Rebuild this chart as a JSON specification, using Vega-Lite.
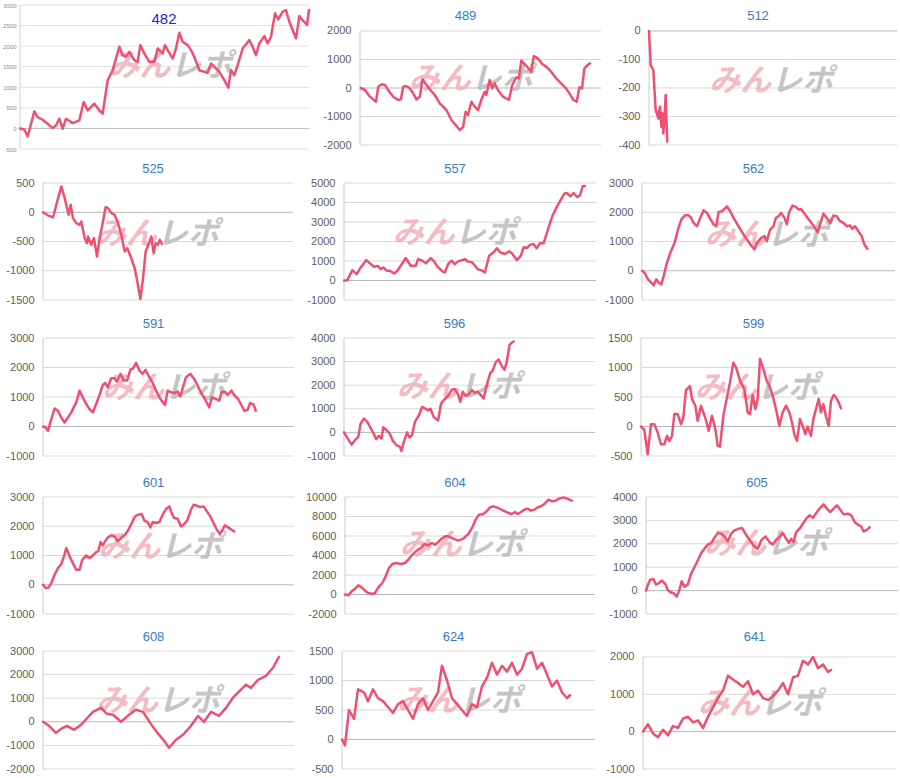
{
"$schema":"https://vega.github.io/schema/vega-lite/v6.json",
"padding":0,
"background":"white",
"spacing":0,
"data":{"values":[
{"p":"482","t":57,"v":0},{"p":"482","t":70,"v":-24},{"p":"482","t":80,"v":-195},{"p":"482","t":100,"v":415},{"p":"482","t":110,"v":276},{"p":"482","t":125,"v":211},{"p":"482","t":140,"v":114},{"p":"482","t":155,"v":8},{"p":"482","t":165,"v":73},{"p":"482","t":175,"v":236},{"p":"482","t":185,"v":-8},{"p":"482","t":195,"v":236},{"p":"482","t":215,"v":130},{"p":"482","t":235,"v":195},{"p":"482","t":248,"v":642},{"p":"482","t":260,"v":439},{"p":"482","t":280,"v":602},{"p":"482","t":295,"v":439},{"p":"482","t":305,"v":358},{"p":"482","t":320,"v":1171},{"p":"482","t":335,"v":1415},{"p":"482","t":355,"v":1984},{"p":"482","t":365,"v":1780},{"p":"482","t":375,"v":1740},{"p":"482","t":385,"v":1862},{"p":"482","t":400,"v":1659},{"p":"482","t":410,"v":1618},{"p":"482","t":418,"v":2024},{"p":"482","t":430,"v":1821},{"p":"482","t":445,"v":1618},{"p":"482","t":460,"v":1618},{"p":"482","t":470,"v":1943},{"p":"482","t":485,"v":1821},{"p":"482","t":492,"v":2024},{"p":"482","t":500,"v":1902},{"p":"482","t":515,"v":1699},{"p":"482","t":525,"v":1943},{"p":"482","t":535,"v":2325},{"p":"482","t":545,"v":2106},{"p":"482","t":560,"v":2024},{"p":"482","t":570,"v":1902},{"p":"482","t":580,"v":1740},{"p":"482","t":595,"v":1415},{"p":"482","t":610,"v":1374},{"p":"482","t":620,"v":1350},{"p":"482","t":630,"v":1577},{"p":"482","t":640,"v":1496},{"p":"482","t":655,"v":1374},{"p":"482","t":670,"v":1171},{"p":"482","t":682,"v":992},{"p":"482","t":690,"v":1415},{"p":"482","t":700,"v":1293},{"p":"482","t":710,"v":1537},{"p":"482","t":725,"v":1943},{"p":"482","t":745,"v":2146},{"p":"482","t":755,"v":1984},{"p":"482","t":765,"v":1780},{"p":"482","t":775,"v":2065},{"p":"482","t":790,"v":2244},{"p":"482","t":800,"v":2065},{"p":"482","t":810,"v":2228},{"p":"482","t":822,"v":2797},{"p":"482","t":832,"v":2650},{"p":"482","t":845,"v":2837},{"p":"482","t":855,"v":2878},{"p":"482","t":865,"v":2593},{"p":"482","t":885,"v":2187},{"p":"482","t":895,"v":2731},{"p":"482","t":900,"v":2675},{"p":"482","t":918,"v":2514},{"p":"482","t":924,"v":2878},
{"p":"489","t":172,"v":0},{"p":"489","t":185,"v":-70},{"p":"489","t":200,"v":-304},{"p":"489","t":218,"v":-480},{"p":"489","t":225,"v":47},{"p":"489","t":235,"v":129},{"p":"489","t":245,"v":105},{"p":"489","t":258,"v":-129},{"p":"489","t":270,"v":-304},{"p":"489","t":285,"v":-421},{"p":"489","t":293,"v":-398},{"p":"489","t":300,"v":47},{"p":"489","t":308,"v":70},{"p":"489","t":318,"v":12},{"p":"489","t":330,"v":-187},{"p":"489","t":340,"v":-398},{"p":"489","t":350,"v":-304},{"p":"489","t":358,"v":304},{"p":"489","t":375,"v":23},{"p":"489","t":395,"v":-246},{"p":"489","t":410,"v":-538},{"p":"489","t":430,"v":-772},{"p":"489","t":445,"v":-1123},{"p":"489","t":458,"v":-1299},{"p":"489","t":470,"v":-1474},{"p":"489","t":480,"v":-1380},{"p":"489","t":488,"v":-831},{"p":"489","t":495,"v":-948},{"p":"489","t":505,"v":-480},{"p":"489","t":515,"v":-655},{"p":"489","t":525,"v":-772},{"p":"489","t":535,"v":-421},{"p":"489","t":545,"v":-129},{"p":"489","t":550,"v":-246},{"p":"489","t":560,"v":281},{"p":"489","t":568,"v":-12},{"p":"489","t":575,"v":164},{"p":"489","t":585,"v":-70},{"p":"489","t":600,"v":-304},{"p":"489","t":618,"v":-421},{"p":"489","t":628,"v":105},{"p":"489","t":640,"v":374},{"p":"489","t":648,"v":339},{"p":"489","t":655,"v":959},{"p":"489","t":668,"v":807},{"p":"489","t":685,"v":573},{"p":"489","t":693,"v":1123},{"p":"489","t":705,"v":1041},{"p":"489","t":718,"v":842},{"p":"489","t":730,"v":749},{"p":"489","t":745,"v":573},{"p":"489","t":760,"v":339},{"p":"489","t":775,"v":164},{"p":"489","t":790,"v":-12},{"p":"489","t":800,"v":-187},{"p":"489","t":812,"v":-421},{"p":"489","t":822,"v":-480},{"p":"489","t":830,"v":23},{"p":"489","t":838,"v":-12},{"p":"489","t":845,"v":690},{"p":"489","t":855,"v":807},{"p":"489","t":862,"v":866},
{"p":"512","t":135,"v":0},{"p":"512","t":140,"v":-119},{"p":"512","t":148,"v":-137},{"p":"512","t":155,"v":-277},{"p":"512","t":160,"v":-295},{"p":"512","t":163,"v":-307},{"p":"512","t":168,"v":-266},{"p":"512","t":172,"v":-336},{"p":"512","t":175,"v":-289},{"p":"512","t":178,"v":-359},{"p":"512","t":182,"v":-301},{"p":"512","t":185,"v":-225},{"p":"512","t":187,"v":-301},{"p":"512","t":190,"v":-388},
{"p":"525","t":130,"v":0},{"p":"525","t":145,"v":-54},{"p":"525","t":160,"v":-89},{"p":"525","t":170,"v":129},{"p":"525","t":185,"v":443},{"p":"525","t":195,"v":243},{"p":"525","t":207,"v":-43},{"p":"525","t":213,"v":129},{"p":"525","t":220,"v":-100},{"p":"525","t":230,"v":-186},{"p":"525","t":240,"v":-214},{"p":"525","t":245,"v":-157},{"p":"525","t":255,"v":-443},{"p":"525","t":262,"v":-529},{"p":"525","t":265,"v":-414},{"p":"525","t":275,"v":-557},{"p":"525","t":283,"v":-443},{"p":"525","t":292,"v":-757},{"p":"525","t":300,"v":-443},{"p":"525","t":310,"v":-157},{"p":"525","t":318,"v":89},{"p":"525","t":325,"v":71},{"p":"525","t":335,"v":-14},{"p":"525","t":345,"v":-43},{"p":"525","t":355,"v":-186},{"p":"525","t":365,"v":-386},{"p":"525","t":375,"v":-671},{"p":"525","t":383,"v":-614},{"p":"525","t":393,"v":-757},{"p":"525","t":405,"v":-957},{"p":"525","t":415,"v":-1243},{"p":"525","t":422,"v":-1483},{"p":"525","t":430,"v":-1129},{"p":"525","t":438,"v":-671},{"p":"525","t":448,"v":-529},{"p":"525","t":455,"v":-414},{"p":"525","t":462,"v":-700},{"p":"525","t":468,"v":-529},{"p":"525","t":475,"v":-557},{"p":"525","t":480,"v":-471},{"p":"525","t":487,"v":-543},
{"p":"557","t":130,"v":0},{"p":"557","t":140,"v":17},{"p":"557","t":155,"v":533},{"p":"557","t":168,"v":327},{"p":"557","t":180,"v":670},{"p":"557","t":197,"v":1049},{"p":"557","t":210,"v":842},{"p":"557","t":220,"v":705},{"p":"557","t":232,"v":739},{"p":"557","t":240,"v":584},{"p":"557","t":248,"v":670},{"p":"557","t":258,"v":499},{"p":"557","t":268,"v":499},{"p":"557","t":280,"v":361},{"p":"557","t":290,"v":499},{"p":"557","t":300,"v":756},{"p":"557","t":315,"v":1152},{"p":"557","t":330,"v":756},{"p":"557","t":345,"v":756},{"p":"557","t":352,"v":1100},{"p":"557","t":365,"v":1014},{"p":"557","t":375,"v":877},{"p":"557","t":390,"v":1152},{"p":"557","t":400,"v":980},{"p":"557","t":410,"v":705},{"p":"557","t":425,"v":464},{"p":"557","t":432,"v":413},{"p":"557","t":442,"v":842},{"p":"557","t":452,"v":1014},{"p":"557","t":462,"v":842},{"p":"557","t":472,"v":980},{"p":"557","t":485,"v":1049},{"p":"557","t":492,"v":1100},{"p":"557","t":500,"v":980},{"p":"557","t":515,"v":928},{"p":"557","t":530,"v":584},{"p":"557","t":545,"v":499},{"p":"557","t":552,"v":413},{"p":"557","t":565,"v":1272},{"p":"557","t":578,"v":1444},{"p":"557","t":588,"v":1650},{"p":"557","t":598,"v":1444},{"p":"557","t":612,"v":1358},{"p":"557","t":625,"v":1496},{"p":"557","t":633,"v":1392},{"p":"557","t":648,"v":1049},{"p":"557","t":660,"v":1272},{"p":"557","t":668,"v":1702},{"p":"557","t":678,"v":1667},{"p":"557","t":688,"v":1839},{"p":"557","t":698,"v":1874},{"p":"557","t":707,"v":1650},{"p":"557","t":717,"v":1908},{"p":"557","t":728,"v":1908},{"p":"557","t":740,"v":2561},{"p":"557","t":755,"v":3335},{"p":"557","t":770,"v":3851},{"p":"557","t":790,"v":4452},{"p":"557","t":798,"v":4486},{"p":"557","t":808,"v":4314},{"p":"557","t":818,"v":4486},{"p":"557","t":828,"v":4280},{"p":"557","t":837,"v":4366},{"p":"557","t":845,"v":4830},{"p":"557","t":852,"v":4847},
{"p":"562","t":120,"v":0},{"p":"562","t":128,"v":-68},{"p":"562","t":138,"v":-295},{"p":"562","t":148,"v":-409},{"p":"562","t":155,"v":-500},{"p":"562","t":163,"v":-295},{"p":"562","t":170,"v":-409},{"p":"562","t":178,"v":-466},{"p":"562","t":185,"v":-182},{"p":"562","t":195,"v":273},{"p":"562","t":205,"v":613},{"p":"562","t":218,"v":954},{"p":"562","t":228,"v":1409},{"p":"562","t":238,"v":1749},{"p":"562","t":248,"v":1886},{"p":"562","t":258,"v":1908},{"p":"562","t":266,"v":1840},{"p":"562","t":275,"v":1636},{"p":"562","t":285,"v":1522},{"p":"562","t":293,"v":1749},{"p":"562","t":305,"v":2068},{"p":"562","t":315,"v":1977},{"p":"562","t":325,"v":1772},{"p":"562","t":335,"v":1590},{"p":"562","t":343,"v":1522},{"p":"562","t":350,"v":1999},{"p":"562","t":360,"v":2033},{"p":"562","t":375,"v":2204},{"p":"562","t":385,"v":2033},{"p":"562","t":395,"v":1806},{"p":"562","t":410,"v":1522},{"p":"562","t":422,"v":1295},{"p":"562","t":435,"v":1068},{"p":"562","t":448,"v":863},{"p":"562","t":458,"v":727},{"p":"562","t":465,"v":954},{"p":"562","t":478,"v":1125},{"p":"562","t":488,"v":1182},{"p":"562","t":495,"v":1011},{"p":"562","t":505,"v":1409},{"p":"562","t":515,"v":1522},{"p":"562","t":522,"v":1806},{"p":"562","t":530,"v":1863},{"p":"562","t":538,"v":1977},{"p":"562","t":548,"v":1806},{"p":"562","t":555,"v":1590},{"p":"562","t":562,"v":1999},{"p":"562","t":572,"v":2227},{"p":"562","t":582,"v":2181},{"p":"562","t":590,"v":2090},{"p":"562","t":598,"v":2113},{"p":"562","t":608,"v":1954},{"p":"562","t":620,"v":1772},{"p":"562","t":635,"v":1545},{"p":"562","t":648,"v":1318},{"p":"562","t":658,"v":1693},{"p":"562","t":665,"v":1954},{"p":"562","t":675,"v":1806},{"p":"562","t":685,"v":1636},{"p":"562","t":695,"v":1886},{"p":"562","t":705,"v":1863},{"p":"562","t":715,"v":1693},{"p":"562","t":725,"v":1636},{"p":"562","t":735,"v":1522},{"p":"562","t":745,"v":1545},{"p":"562","t":752,"v":1431},{"p":"562","t":760,"v":1522},{"p":"562","t":770,"v":1352},{"p":"562","t":780,"v":1182},{"p":"562","t":788,"v":897},{"p":"562","t":797,"v":750},
{"p":"591","t":125,"v":0},{"p":"591","t":133,"v":-34},{"p":"591","t":140,"v":-148},{"p":"591","t":150,"v":250},{"p":"591","t":160,"v":613},{"p":"591","t":170,"v":534},{"p":"591","t":180,"v":307},{"p":"591","t":190,"v":136},{"p":"591","t":200,"v":307},{"p":"591","t":210,"v":477},{"p":"591","t":225,"v":818},{"p":"591","t":235,"v":1216},{"p":"591","t":245,"v":988},{"p":"591","t":255,"v":761},{"p":"591","t":265,"v":591},{"p":"591","t":275,"v":477},{"p":"591","t":285,"v":761},{"p":"591","t":295,"v":1068},{"p":"591","t":305,"v":1409},{"p":"591","t":312,"v":1477},{"p":"591","t":320,"v":1329},{"p":"591","t":330,"v":1636},{"p":"591","t":340,"v":1636},{"p":"591","t":348,"v":1522},{"p":"591","t":358,"v":1784},{"p":"591","t":368,"v":1556},{"p":"591","t":378,"v":1556},{"p":"591","t":388,"v":1931},{"p":"591","t":395,"v":1954},{"p":"591","t":405,"v":2158},{"p":"591","t":415,"v":1897},{"p":"591","t":425,"v":1784},{"p":"591","t":433,"v":1920},{"p":"591","t":445,"v":1670},{"p":"591","t":455,"v":1477},{"p":"591","t":465,"v":1216},{"p":"591","t":478,"v":932},{"p":"591","t":492,"v":727},{"p":"591","t":500,"v":1216},{"p":"591","t":510,"v":1159},{"p":"591","t":520,"v":1136},{"p":"591","t":530,"v":1182},{"p":"591","t":538,"v":1022},{"p":"591","t":545,"v":1295},{"p":"591","t":555,"v":1670},{"p":"591","t":568,"v":1784},{"p":"591","t":580,"v":1613},{"p":"591","t":590,"v":1386},{"p":"591","t":600,"v":1159},{"p":"591","t":612,"v":932},{"p":"591","t":625,"v":648},{"p":"591","t":633,"v":988},{"p":"591","t":645,"v":932},{"p":"591","t":655,"v":875},{"p":"591","t":662,"v":1159},{"p":"591","t":672,"v":1182},{"p":"591","t":680,"v":1068},{"p":"591","t":692,"v":1216},{"p":"591","t":700,"v":1068},{"p":"591","t":712,"v":932},{"p":"591","t":722,"v":727},{"p":"591","t":730,"v":534},{"p":"591","t":740,"v":557},{"p":"591","t":748,"v":795},{"p":"591","t":758,"v":750},{"p":"591","t":765,"v":534},
{"p":"596","t":125,"v":0},{"p":"596","t":135,"v":-230},{"p":"596","t":148,"v":-517},{"p":"596","t":158,"v":-330},{"p":"596","t":168,"v":-187},{"p":"596","t":175,"v":374},{"p":"596","t":185,"v":589},{"p":"596","t":195,"v":445},{"p":"596","t":205,"v":187},{"p":"596","t":215,"v":-72},{"p":"596","t":222,"v":-287},{"p":"596","t":230,"v":-144},{"p":"596","t":238,"v":-259},{"p":"596","t":243,"v":216},{"p":"596","t":255,"v":72},{"p":"596","t":263,"v":-72},{"p":"596","t":272,"v":-359},{"p":"596","t":283,"v":-546},{"p":"596","t":293,"v":-604},{"p":"596","t":298,"v":-790},{"p":"596","t":305,"v":-402},{"p":"596","t":315,"v":0},{"p":"596","t":322,"v":-216},{"p":"596","t":330,"v":-115},{"p":"596","t":338,"v":431},{"p":"596","t":350,"v":718},{"p":"596","t":360,"v":1078},{"p":"596","t":370,"v":1006},{"p":"596","t":378,"v":934},{"p":"596","t":385,"v":1006},{"p":"596","t":395,"v":647},{"p":"596","t":408,"v":503},{"p":"596","t":417,"v":1222},{"p":"596","t":425,"v":1365},{"p":"596","t":438,"v":1552},{"p":"596","t":448,"v":1796},{"p":"596","t":458,"v":1839},{"p":"596","t":468,"v":1609},{"p":"596","t":475,"v":1293},{"p":"596","t":482,"v":1724},{"p":"596","t":490,"v":1552},{"p":"596","t":500,"v":1609},{"p":"596","t":510,"v":1796},{"p":"596","t":518,"v":1681},{"p":"596","t":527,"v":1724},{"p":"596","t":537,"v":1566},{"p":"596","t":545,"v":1437},{"p":"596","t":555,"v":2040},{"p":"596","t":565,"v":2515},{"p":"596","t":572,"v":2615},{"p":"596","t":582,"v":2989},{"p":"596","t":590,"v":3090},{"p":"596","t":600,"v":2802},{"p":"596","t":608,"v":2658},{"p":"596","t":615,"v":3018},{"p":"596","t":623,"v":3708},{"p":"596","t":630,"v":3808},{"p":"596","t":635,"v":3851},
{"p":"599","t":115,"v":0},{"p":"599","t":125,"v":-57},{"p":"599","t":135,"v":-471},{"p":"599","t":145,"v":40},{"p":"599","t":155,"v":40},{"p":"599","t":165,"v":-102},{"p":"599","t":175,"v":-301},{"p":"599","t":185,"v":-301},{"p":"599","t":193,"v":-159},{"p":"599","t":200,"v":-244},{"p":"599","t":208,"v":-159},{"p":"599","t":215,"v":210},{"p":"599","t":225,"v":210},{"p":"599","t":235,"v":40},{"p":"599","t":242,"v":153},{"p":"599","t":250,"v":619},{"p":"599","t":262,"v":682},{"p":"599","t":268,"v":466},{"p":"599","t":278,"v":352},{"p":"599","t":285,"v":97},{"p":"599","t":295,"v":352},{"p":"599","t":305,"v":193},{"p":"599","t":312,"v":68},{"p":"599","t":318,"v":-74},{"p":"599","t":328,"v":182},{"p":"599","t":338,"v":-45},{"p":"599","t":345,"v":-329},{"p":"599","t":352,"v":-341},{"p":"599","t":362,"v":182},{"p":"599","t":373,"v":494},{"p":"599","t":382,"v":750},{"p":"599","t":392,"v":1079},{"p":"599","t":400,"v":1005},{"p":"599","t":412,"v":778},{"p":"599","t":425,"v":636},{"p":"599","t":435,"v":239},{"p":"599","t":442,"v":210},{"p":"599","t":450,"v":534},{"p":"599","t":458,"v":295},{"p":"599","t":465,"v":466},{"p":"599","t":472,"v":1147},{"p":"599","t":482,"v":977},{"p":"599","t":492,"v":778},{"p":"599","t":500,"v":693},{"p":"599","t":510,"v":523},{"p":"599","t":520,"v":295},{"p":"599","t":530,"v":11},{"p":"599","t":540,"v":239},{"p":"599","t":550,"v":352},{"p":"599","t":560,"v":239},{"p":"599","t":568,"v":68},{"p":"599","t":575,"v":-131},{"p":"599","t":583,"v":-244},{"p":"599","t":592,"v":125},{"p":"599","t":600,"v":11},{"p":"599","t":608,"v":-131},{"p":"599","t":615,"v":0},{"p":"599","t":625,"v":-159},{"p":"599","t":632,"v":125},{"p":"599","t":640,"v":295},{"p":"599","t":648,"v":466},{"p":"599","t":655,"v":239},{"p":"599","t":662,"v":381},{"p":"599","t":670,"v":170},{"p":"599","t":678,"v":11},{"p":"599","t":685,"v":437},{"p":"599","t":693,"v":534},{"p":"599","t":700,"v":494},{"p":"599","t":708,"v":409},{"p":"599","t":715,"v":307},
{"p":"601","t":125,"v":0},{"p":"601","t":133,"v":-114},{"p":"601","t":142,"v":-91},{"p":"601","t":150,"v":57},{"p":"601","t":160,"v":342},{"p":"601","t":170,"v":570},{"p":"601","t":180,"v":707},{"p":"601","t":188,"v":969},{"p":"601","t":195,"v":1254},{"p":"601","t":205,"v":969},{"p":"601","t":215,"v":741},{"p":"601","t":225,"v":513},{"p":"601","t":235,"v":513},{"p":"601","t":243,"v":855},{"p":"601","t":255,"v":1003},{"p":"601","t":265,"v":912},{"p":"601","t":275,"v":1003},{"p":"601","t":285,"v":1117},{"p":"601","t":292,"v":1163},{"p":"601","t":298,"v":1459},{"p":"601","t":305,"v":1345},{"p":"601","t":313,"v":1505},{"p":"601","t":320,"v":1619},{"p":"601","t":330,"v":1687},{"p":"601","t":340,"v":1653},{"p":"601","t":350,"v":1482},{"p":"601","t":360,"v":1596},{"p":"601","t":372,"v":1710},{"p":"601","t":382,"v":1881},{"p":"601","t":392,"v":2109},{"p":"601","t":402,"v":2337},{"p":"601","t":412,"v":2394},{"p":"601","t":422,"v":2417},{"p":"601","t":430,"v":2189},{"p":"601","t":440,"v":2143},{"p":"601","t":448,"v":1961},{"p":"601","t":455,"v":2143},{"p":"601","t":465,"v":2109},{"p":"601","t":475,"v":2143},{"p":"601","t":485,"v":2394},{"p":"601","t":495,"v":2588},{"p":"601","t":505,"v":2679},{"p":"601","t":512,"v":2451},{"p":"601","t":520,"v":2280},{"p":"601","t":530,"v":2257},{"p":"601","t":540,"v":1995},{"p":"601","t":550,"v":2075},{"p":"601","t":560,"v":2223},{"p":"601","t":570,"v":2565},{"p":"601","t":578,"v":2736},{"p":"601","t":588,"v":2702},{"p":"601","t":598,"v":2656},{"p":"601","t":608,"v":2679},{"p":"601","t":618,"v":2508},{"p":"601","t":628,"v":2337},{"p":"601","t":638,"v":2109},{"p":"601","t":648,"v":1881},{"p":"601","t":657,"v":1733},{"p":"601","t":665,"v":1881},{"p":"601","t":672,"v":2029},{"p":"601","t":682,"v":1961},{"p":"601","t":692,"v":1881},{"p":"601","t":700,"v":1824},
{"p":"604","t":130,"v":0},{"p":"604","t":140,"v":-86},{"p":"604","t":150,"v":325},{"p":"604","t":160,"v":598},{"p":"604","t":170,"v":940},{"p":"604","t":180,"v":735},{"p":"604","t":190,"v":393},{"p":"604","t":200,"v":154},{"p":"604","t":212,"v":51},{"p":"604","t":220,"v":154},{"p":"604","t":230,"v":735},{"p":"604","t":242,"v":1180},{"p":"604","t":252,"v":1864},{"p":"604","t":262,"v":2718},{"p":"604","t":272,"v":3129},{"p":"604","t":285,"v":3231},{"p":"604","t":298,"v":3129},{"p":"604","t":310,"v":3231},{"p":"604","t":320,"v":3573},{"p":"604","t":330,"v":4017},{"p":"604","t":345,"v":4496},{"p":"604","t":358,"v":4769},{"p":"604","t":368,"v":5180},{"p":"604","t":380,"v":5043},{"p":"604","t":390,"v":5282},{"p":"604","t":400,"v":5112},{"p":"604","t":410,"v":5385},{"p":"604","t":420,"v":5727},{"p":"604","t":430,"v":5966},{"p":"604","t":440,"v":5966},{"p":"604","t":455,"v":5727},{"p":"604","t":470,"v":5522},{"p":"604","t":485,"v":5727},{"p":"604","t":500,"v":6206},{"p":"604","t":512,"v":6890},{"p":"604","t":522,"v":7676},{"p":"604","t":532,"v":8189},{"p":"604","t":545,"v":8257},{"p":"604","t":555,"v":8531},{"p":"604","t":565,"v":8941},{"p":"604","t":575,"v":9044},{"p":"604","t":590,"v":8873},{"p":"604","t":605,"v":8599},{"p":"604","t":620,"v":8360},{"p":"604","t":630,"v":8257},{"p":"604","t":640,"v":8462},{"p":"604","t":648,"v":8257},{"p":"604","t":658,"v":8462},{"p":"604","t":668,"v":8702},{"p":"604","t":678,"v":8804},{"p":"604","t":688,"v":8599},{"p":"604","t":698,"v":8702},{"p":"604","t":708,"v":8941},{"p":"604","t":718,"v":9044},{"p":"604","t":728,"v":9283},{"p":"604","t":740,"v":9728},{"p":"604","t":752,"v":9557},{"p":"604","t":762,"v":9625},{"p":"604","t":772,"v":9830},{"p":"604","t":785,"v":9967},{"p":"604","t":797,"v":9830},{"p":"604","t":810,"v":9625},
{"p":"605","t":130,"v":0},{"p":"605","t":135,"v":214},{"p":"605","t":142,"v":457},{"p":"605","t":152,"v":500},{"p":"605","t":160,"v":257},{"p":"605","t":168,"v":314},{"p":"605","t":178,"v":429},{"p":"605","t":188,"v":286},{"p":"605","t":195,"v":29},{"p":"605","t":203,"v":-71},{"p":"605","t":213,"v":-114},{"p":"605","t":222,"v":-257},{"p":"605","t":230,"v":29},{"p":"605","t":237,"v":400},{"p":"605","t":245,"v":171},{"p":"605","t":255,"v":257},{"p":"605","t":265,"v":714},{"p":"605","t":275,"v":1000},{"p":"605","t":285,"v":1286},{"p":"605","t":295,"v":1600},{"p":"605","t":305,"v":1786},{"p":"605","t":315,"v":1972},{"p":"605","t":325,"v":2029},{"p":"605","t":335,"v":2257},{"p":"605","t":345,"v":2457},{"p":"605","t":355,"v":2429},{"p":"605","t":365,"v":2315},{"p":"605","t":375,"v":2115},{"p":"605","t":385,"v":2429},{"p":"605","t":395,"v":2572},{"p":"605","t":405,"v":2629},{"p":"605","t":418,"v":2672},{"p":"605","t":428,"v":2429},{"p":"605","t":440,"v":2172},{"p":"605","t":452,"v":1929},{"p":"605","t":465,"v":1786},{"p":"605","t":475,"v":2143},{"p":"605","t":488,"v":2315},{"p":"605","t":500,"v":2072},{"p":"605","t":510,"v":1972},{"p":"605","t":520,"v":2172},{"p":"605","t":530,"v":2286},{"p":"605","t":540,"v":2457},{"p":"605","t":550,"v":2215},{"p":"605","t":558,"v":2043},{"p":"605","t":565,"v":2215},{"p":"605","t":572,"v":2072},{"p":"605","t":580,"v":2500},{"p":"605","t":590,"v":2643},{"p":"605","t":600,"v":2858},{"p":"605","t":610,"v":3072},{"p":"605","t":620,"v":3215},{"p":"605","t":630,"v":3115},{"p":"605","t":640,"v":3315},{"p":"605","t":650,"v":3500},{"p":"605","t":662,"v":3686},{"p":"605","t":672,"v":3500},{"p":"605","t":682,"v":3358},{"p":"605","t":692,"v":3500},{"p":"605","t":702,"v":3643},{"p":"605","t":712,"v":3458},{"p":"605","t":722,"v":3258},{"p":"605","t":735,"v":3286},{"p":"605","t":745,"v":3215},{"p":"605","t":755,"v":2929},{"p":"605","t":765,"v":2815},{"p":"605","t":775,"v":2743},{"p":"605","t":782,"v":2529},{"p":"605","t":792,"v":2600},{"p":"605","t":800,"v":2715},
{"p":"608","t":42,"v":0},{"p":"608","t":48,"v":-170},{"p":"608","t":55,"v":-470},{"p":"608","t":60,"v":-300},{"p":"608","t":66,"v":-170},{"p":"608","t":73,"v":-340},{"p":"608","t":80,"v":-130},{"p":"608","t":86,"v":150},{"p":"608","t":92,"v":420},{"p":"608","t":100,"v":590},{"p":"608","t":106,"v":340},{"p":"608","t":112,"v":300},{"p":"608","t":120,"v":0},{"p":"608","t":128,"v":300},{"p":"608","t":135,"v":510},{"p":"608","t":142,"v":420},{"p":"608","t":150,"v":-100},{"p":"608","t":157,"v":-500},{"p":"608","t":163,"v":-800},{"p":"608","t":168,"v":-1100},{"p":"608","t":175,"v":-760},{"p":"608","t":182,"v":-550},{"p":"608","t":190,"v":-170},{"p":"608","t":197,"v":250},{"p":"608","t":203,"v":0},{"p":"608","t":210,"v":420},{"p":"608","t":218,"v":250},{"p":"608","t":225,"v":590},{"p":"608","t":232,"v":1020},{"p":"608","t":240,"v":1360},{"p":"608","t":245,"v":1570},{"p":"608","t":250,"v":1440},{"p":"608","t":257,"v":1780},{"p":"608","t":265,"v":1950},{"p":"608","t":272,"v":2290},{"p":"608","t":278,"v":2750},
{"p":"624","t":340,"v":0},{"p":"624","t":343,"v":-100},{"p":"624","t":347,"v":500},{"p":"624","t":352,"v":350},{"p":"624","t":356,"v":850},{"p":"624","t":362,"v":800},{"p":"624","t":366,"v":650},{"p":"624","t":371,"v":850},{"p":"624","t":376,"v":700},{"p":"624","t":381,"v":650},{"p":"624","t":386,"v":550},{"p":"624","t":391,"v":450},{"p":"624","t":396,"v":600},{"p":"624","t":401,"v":650},{"p":"624","t":406,"v":500},{"p":"624","t":411,"v":350},{"p":"624","t":416,"v":600},{"p":"624","t":421,"v":700},{"p":"624","t":426,"v":500},{"p":"624","t":431,"v":650},{"p":"624","t":436,"v":800},{"p":"624","t":440,"v":1250},{"p":"624","t":445,"v":1000},{"p":"624","t":450,"v":700},{"p":"624","t":455,"v":600},{"p":"624","t":460,"v":500},{"p":"624","t":465,"v":400},{"p":"624","t":470,"v":600},{"p":"624","t":475,"v":550},{"p":"624","t":480,"v":900},{"p":"624","t":485,"v":1050},{"p":"624","t":490,"v":1300},{"p":"624","t":495,"v":1100},{"p":"624","t":500,"v":1250},{"p":"624","t":505,"v":1150},{"p":"624","t":510,"v":1300},{"p":"624","t":515,"v":1100},{"p":"624","t":520,"v":1200},{"p":"624","t":525,"v":1450},{"p":"624","t":530,"v":1480},{"p":"624","t":535,"v":1200},{"p":"624","t":540,"v":1300},{"p":"624","t":545,"v":1100},{"p":"624","t":550,"v":900},{"p":"624","t":555,"v":1000},{"p":"624","t":560,"v":800},{"p":"624","t":565,"v":700},{"p":"624","t":568,"v":750},
{"p":"641","t":640,"v":0},{"p":"641","t":645,"v":200},{"p":"641","t":650,"v":-50},{"p":"641","t":655,"v":-150},{"p":"641","t":660,"v":50},{"p":"641","t":665,"v":-100},{"p":"641","t":670,"v":150},{"p":"641","t":675,"v":100},{"p":"641","t":680,"v":350},{"p":"641","t":685,"v":400},{"p":"641","t":690,"v":250},{"p":"641","t":695,"v":300},{"p":"641","t":700,"v":100},{"p":"641","t":705,"v":400},{"p":"641","t":710,"v":650},{"p":"641","t":715,"v":900},{"p":"641","t":720,"v":1100},{"p":"641","t":725,"v":1500},{"p":"641","t":730,"v":1400},{"p":"641","t":735,"v":1300},{"p":"641","t":740,"v":1200},{"p":"641","t":745,"v":1350},{"p":"641","t":750,"v":1000},{"p":"641","t":755,"v":1100},{"p":"641","t":760,"v":900},{"p":"641","t":765,"v":850},{"p":"641","t":770,"v":950},{"p":"641","t":775,"v":1100},{"p":"641","t":780,"v":1300},{"p":"641","t":785,"v":1000},{"p":"641","t":790,"v":1450},{"p":"641","t":795,"v":1500},{"p":"641","t":800,"v":1900},{"p":"641","t":805,"v":1800},{"p":"641","t":810,"v":2000},{"p":"641","t":815,"v":1700},{"p":"641","t":820,"v":1800},{"p":"641","t":825,"v":1600},{"p":"641","t":828,"v":1650}
]},
"vconcat":[
{"spacing":0,"hconcat":[
{"width":266,"height":144,"title":{"text":"482","fontSize":15,"color":"#2424e0","dx":-12,"offset":-27},
 "layer":[
  {"data":{"values":[{"g":-500},{"g":500},{"g":1000},{"g":1500},{"g":2000},{"g":2500},{"g":3000}]},"mark":{"type":"rule","color":"#e0e0e0"},"encoding":{"x":{"datum":57},"x2":{"datum":924},"y":{"field":"g","type":"quantitative","title":null}}},
  {"data":{"values":[{}]},"mark":{"type":"rule","color":"#c0c0c0"},"encoding":{"x":{"datum":57},"x2":{"datum":924},"y":{"datum":0}}},
  {"data":{"values":[{}]},"mark":{"type":"rule","color":"#d0d0d0"},"encoding":{"x":{"datum":57},"y":{"datum":-500},"y2":{"datum":3000}}},
  {"data":{"values":[{}]},"mark":{"type":"text","style":"wm","text":"みん","align":"right","color":"#f2b0b9"},"encoding":{"x":{"datum":508},"y":{"datum":1495}}},
  {"data":{"values":[{}]},"mark":{"type":"text","style":"wm","text":"レポ","align":"left","color":"#bcbcbc"},"encoding":{"x":{"datum":508},"y":{"datum":1495}}},
  {"transform":[{"filter":"datum.p=='482'"}],"mark":"line","encoding":{
   "x":{"field":"t","type":"quantitative","title":null,"scale":{"domain":[126,924],"nice":false,"zero":false},"axis":{"orient":"top","minExtent":5,"maxExtent":5}},
   "y":{"field":"v","type":"quantitative","title":null,"scale":{"domain":[-500,3000],"nice":false,"zero":false},"axis":{"values":[-500,0,500,1000,1500,2000,2500,3000],"tickCount":20,"labelFontSize":6,"labelColor":"#8a8a8a","labelPadding":27,"minExtent":42,"maxExtent":42}}}}
 ]},
{"width":241,"height":144,"title":{"text":"489","offset":-23},
 "layer":[
  {"data":{"values":[{"g":-2000},{"g":-1000},{"g":1000},{"g":2000}]},"mark":{"type":"rule","color":"#d9d9d9"},"encoding":{"x":{"datum":170},"x2":{"datum":895},"y":{"field":"g","type":"quantitative","title":null}}},
  {"data":{"values":[{}]},"mark":{"type":"rule","color":"#cccccc"},"encoding":{"x":{"datum":170},"y":{"datum":-2000},"y2":{"datum":2000}}},
  {"data":{"values":[{}]},"mark":{"type":"rule","color":"#b8b8b8"},"encoding":{"x":{"datum":170},"x2":{"datum":895},"y":{"datum":0}}},
  {"data":{"values":[{}]},"mark":{"type":"text","style":"wm","text":"みん","align":"right","color":"#f2b0b9"},"encoding":{"x":{"datum":503},"y":{"datum":298}}},
  {"data":{"values":[{}]},"mark":{"type":"text","style":"wm","text":"レポ","align":"left","color":"#bcbcbc"},"encoding":{"x":{"datum":503},"y":{"datum":298}}},
  {"transform":[{"filter":"datum.p=='489'"}],"mark":"line","encoding":{
   "x":{"field":"t","type":"quantitative","title":null,"scale":{"domain":[170,895],"nice":false,"zero":false},"axis":{"orient":"top","minExtent":5,"maxExtent":5}},
   "y":{"field":"v","type":"quantitative","title":null,"scale":{"domain":[-2140,2912],"nice":false,"zero":false},"axis":{"values":[-2000,-1000,0,1000,2000],"tickCount":20,"minExtent":49,"maxExtent":49}}}}
 ]},
{"width":248,"height":144,"title":{"text":"512","offset":-23},
 "layer":[
  {"data":{"values":[{"g":-400},{"g":-300},{"g":-200},{"g":-100}]},"mark":{"type":"rule","color":"#d9d9d9"},"encoding":{"x":{"datum":135},"x2":{"datum":880},"y":{"field":"g","type":"quantitative","title":null}}},
  {"data":{"values":[{}]},"mark":{"type":"rule","color":"#cccccc"},"encoding":{"x":{"datum":135},"y":{"datum":-400},"y2":{"datum":0}}},
  {"data":{"values":[{}]},"mark":{"type":"rule","color":"#b8b8b8"},"encoding":{"x":{"datum":135},"x2":{"datum":880},"y":{"datum":0}}},
  {"data":{"values":[{}]},"mark":{"type":"text","style":"wm","text":"みん","align":"right","color":"#f2b0b9"},"encoding":{"x":{"datum":502},"y":{"datum":-178}}},
  {"data":{"values":[{}]},"mark":{"type":"text","style":"wm","text":"レポ","align":"left","color":"#bcbcbc"},"encoding":{"x":{"datum":502},"y":{"datum":-178}}},
  {"transform":[{"filter":"datum.p=='512'"}],"mark":"line","encoding":{
   "x":{"field":"t","type":"quantitative","title":null,"scale":{"domain":[135,880],"nice":false,"zero":false},"axis":{"orient":"top","minExtent":5,"maxExtent":5}},
   "y":{"field":"v","type":"quantitative","title":null,"scale":{"domain":[-414,91],"nice":false,"zero":false},"axis":{"values":[-400,-300,-200,-100,0],"tickCount":20,"minExtent":47,"maxExtent":47}}}}
 ]}
]},
{"spacing":0,"hconcat":[
{"width":250,"height":117,"title":{"text":"525","offset":-23.5},
 "layer":[
  {"data":{"values":[{"g":-1500},{"g":-1000},{"g":-500},{"g":500}]},"mark":{"type":"rule","color":"#d9d9d9"},"encoding":{"x":{"datum":130},"x2":{"datum":880},"y":{"field":"g","type":"quantitative","title":null}}},
  {"data":{"values":[{}]},"mark":{"type":"rule","color":"#cccccc"},"encoding":{"x":{"datum":130},"y":{"datum":-1500},"y2":{"datum":500}}},
  {"data":{"values":[{}]},"mark":{"type":"rule","color":"#b8b8b8"},"encoding":{"x":{"datum":130},"x2":{"datum":880},"y":{"datum":0}}},
  {"data":{"values":[{}]},"mark":{"type":"text","style":"wm","text":"みん","align":"right","color":"#f2b0b9"},"encoding":{"x":{"datum":472},"y":{"datum":-386}}},
  {"data":{"values":[{}]},"mark":{"type":"text","style":"wm","text":"レポ","align":"left","color":"#bcbcbc"},"encoding":{"x":{"datum":472},"y":{"datum":-386}}},
  {"transform":[{"filter":"datum.p=='525'"}],"mark":"line","encoding":{
   "x":{"field":"t","type":"quantitative","title":null,"scale":{"domain":[130,880],"nice":false,"zero":false},"axis":{"orient":"top","minExtent":31,"maxExtent":31}},
   "y":{"field":"v","type":"quantitative","title":null,"scale":{"domain":[-1500,500],"nice":false,"zero":false},"axis":{"values":[-1500,-1000,-500,0,500],"tickCount":20,"minExtent":43,"maxExtent":43}}}}
 ]},
{"width":252,"height":117,"title":{"text":"557","offset":-23.5},
 "layer":[
  {"data":{"values":[{"g":-1000},{"g":1000},{"g":2000},{"g":3000},{"g":4000},{"g":5000}]},"mark":{"type":"rule","color":"#d9d9d9"},"encoding":{"x":{"datum":130},"x2":{"datum":885},"y":{"field":"g","type":"quantitative","title":null}}},
  {"data":{"values":[{}]},"mark":{"type":"rule","color":"#cccccc"},"encoding":{"x":{"datum":130},"y":{"datum":-1000},"y2":{"datum":5000}}},
  {"data":{"values":[{}]},"mark":{"type":"rule","color":"#b8b8b8"},"encoding":{"x":{"datum":130},"x2":{"datum":885},"y":{"datum":0}}},
  {"data":{"values":[{}]},"mark":{"type":"text","style":"wm","text":"みん","align":"right","color":"#f2b0b9"},"encoding":{"x":{"datum":462},"y":{"datum":2390}}},
  {"data":{"values":[{}]},"mark":{"type":"text","style":"wm","text":"レポ","align":"left","color":"#bcbcbc"},"encoding":{"x":{"datum":462},"y":{"datum":2390}}},
  {"transform":[{"filter":"datum.p=='557'"}],"mark":"line","encoding":{
   "x":{"field":"t","type":"quantitative","title":null,"scale":{"domain":[130,885],"nice":false,"zero":false},"axis":{"orient":"top","minExtent":31,"maxExtent":31}},
   "y":{"field":"v","type":"quantitative","title":null,"scale":{"domain":[-1000,5000],"nice":false,"zero":false},"axis":{"values":[-1000,0,1000,2000,3000,4000,5000],"tickCount":20,"minExtent":50,"maxExtent":50}}}}
 ]},
{"width":253,"height":117,"title":{"text":"562","offset":-23.5},
 "layer":[
  {"data":{"values":[{"g":-1000},{"g":1000},{"g":2000},{"g":3000}]},"mark":{"type":"rule","color":"#d9d9d9"},"encoding":{"x":{"datum":120},"x2":{"datum":880},"y":{"field":"g","type":"quantitative","title":null}}},
  {"data":{"values":[{}]},"mark":{"type":"rule","color":"#cccccc"},"encoding":{"x":{"datum":120},"y":{"datum":-1000},"y2":{"datum":3000}}},
  {"data":{"values":[{}]},"mark":{"type":"rule","color":"#b8b8b8"},"encoding":{"x":{"datum":120},"x2":{"datum":880},"y":{"datum":0}}},
  {"data":{"values":[{}]},"mark":{"type":"text","style":"wm","text":"みん","align":"right","color":"#f2b0b9"},"encoding":{"x":{"datum":495},"y":{"datum":1181}}},
  {"data":{"values":[{}]},"mark":{"type":"text","style":"wm","text":"レポ","align":"left","color":"#bcbcbc"},"encoding":{"x":{"datum":495},"y":{"datum":1181}}},
  {"transform":[{"filter":"datum.p=='562'"}],"mark":"line","encoding":{
   "x":{"field":"t","type":"quantitative","title":null,"scale":{"domain":[120,880],"nice":false,"zero":false},"axis":{"orient":"top","minExtent":31,"maxExtent":31}},
   "y":{"field":"v","type":"quantitative","title":null,"scale":{"domain":[-1000,3000],"nice":false,"zero":false},"axis":{"values":[-1000,0,1000,2000,3000],"tickCount":20,"minExtent":45,"maxExtent":45}}}}
 ]}
]},
{"spacing":0,"hconcat":[
{"width":251,"height":118,"title":{"text":"591","offset":-25.5},
 "layer":[
  {"data":{"values":[{"g":-1000},{"g":1000},{"g":2000},{"g":3000}]},"mark":{"type":"rule","color":"#d9d9d9"},"encoding":{"x":{"datum":125},"x2":{"datum":880},"y":{"field":"g","type":"quantitative","title":null}}},
  {"data":{"values":[{}]},"mark":{"type":"rule","color":"#cccccc"},"encoding":{"x":{"datum":125},"y":{"datum":-1000},"y2":{"datum":3000}}},
  {"data":{"values":[{}]},"mark":{"type":"rule","color":"#b8b8b8"},"encoding":{"x":{"datum":125},"x2":{"datum":880},"y":{"datum":0}}},
  {"data":{"values":[{}]},"mark":{"type":"text","style":"wm","text":"みん","align":"right","color":"#f2b0b9"},"encoding":{"x":{"datum":490},"y":{"datum":1272}}},
  {"data":{"values":[{}]},"mark":{"type":"text","style":"wm","text":"レポ","align":"left","color":"#bcbcbc"},"encoding":{"x":{"datum":490},"y":{"datum":1272}}},
  {"transform":[{"filter":"datum.p=='591'"}],"mark":"line","encoding":{
   "x":{"field":"t","type":"quantitative","title":null,"scale":{"domain":[125,880],"nice":false,"zero":false},"axis":{"orient":"top","minExtent":33,"maxExtent":33}},
   "y":{"field":"v","type":"quantitative","title":null,"scale":{"domain":[-1000,3000],"nice":false,"zero":false},"axis":{"values":[-1000,0,1000,2000,3000],"tickCount":20,"minExtent":42,"maxExtent":42}}}}
 ]},
{"width":251,"height":118,"title":{"text":"596","offset":-25.5},
 "layer":[
  {"data":{"values":[{"g":-1000},{"g":1000},{"g":2000},{"g":3000},{"g":4000}]},"mark":{"type":"rule","color":"#d9d9d9"},"encoding":{"x":{"datum":125},"x2":{"datum":880},"y":{"field":"g","type":"quantitative","title":null}}},
  {"data":{"values":[{}]},"mark":{"type":"rule","color":"#cccccc"},"encoding":{"x":{"datum":125},"y":{"datum":-1000},"y2":{"datum":4000}}},
  {"data":{"values":[{}]},"mark":{"type":"rule","color":"#b8b8b8"},"encoding":{"x":{"datum":125},"x2":{"datum":880},"y":{"datum":0}}},
  {"data":{"values":[{}]},"mark":{"type":"text","style":"wm","text":"みん","align":"right","color":"#f2b0b9"},"encoding":{"x":{"datum":470},"y":{"datum":1868}}},
  {"data":{"values":[{}]},"mark":{"type":"text","style":"wm","text":"レポ","align":"left","color":"#bcbcbc"},"encoding":{"x":{"datum":470},"y":{"datum":1868}}},
  {"transform":[{"filter":"datum.p=='596'"}],"mark":"line","encoding":{
   "x":{"field":"t","type":"quantitative","title":null,"scale":{"domain":[125,880],"nice":false,"zero":false},"axis":{"orient":"top","minExtent":33,"maxExtent":33}},
   "y":{"field":"v","type":"quantitative","title":null,"scale":{"domain":[-1000,4000],"nice":false,"zero":false},"axis":{"values":[-1000,0,1000,2000,3000,4000],"tickCount":20,"minExtent":49,"maxExtent":49}}}}
 ]},
{"width":255,"height":118,"title":{"text":"599","offset":-25.5},
 "layer":[
  {"data":{"values":[{"g":-500},{"g":500},{"g":1000},{"g":1500}]},"mark":{"type":"rule","color":"#d9d9d9"},"encoding":{"x":{"datum":115},"x2":{"datum":880},"y":{"field":"g","type":"quantitative","title":null}}},
  {"data":{"values":[{}]},"mark":{"type":"rule","color":"#cccccc"},"encoding":{"x":{"datum":115},"y":{"datum":-500},"y2":{"datum":1500}}},
  {"data":{"values":[{}]},"mark":{"type":"rule","color":"#b8b8b8"},"encoding":{"x":{"datum":115},"x2":{"datum":880},"y":{"datum":0}}},
  {"data":{"values":[{}]},"mark":{"type":"text","style":"wm","text":"みん","align":"right","color":"#f2b0b9"},"encoding":{"x":{"datum":462},"y":{"datum":636}}},
  {"data":{"values":[{}]},"mark":{"type":"text","style":"wm","text":"レポ","align":"left","color":"#bcbcbc"},"encoding":{"x":{"datum":462},"y":{"datum":636}}},
  {"transform":[{"filter":"datum.p=='599'"}],"mark":"line","encoding":{
   "x":{"field":"t","type":"quantitative","title":null,"scale":{"domain":[115,880],"nice":false,"zero":false},"axis":{"orient":"top","minExtent":33,"maxExtent":33}},
   "y":{"field":"v","type":"quantitative","title":null,"scale":{"domain":[-500,1500],"nice":false,"zero":false},"axis":{"values":[-500,0,500,1000,1500],"tickCount":20,"minExtent":45,"maxExtent":45}}}}
 ]}
]},
{"spacing":0,"hconcat":[
{"width":251,"height":117,"title":{"text":"601","offset":-28.5},
 "layer":[
  {"data":{"values":[{"g":-1000},{"g":1000},{"g":2000},{"g":3000}]},"mark":{"type":"rule","color":"#d9d9d9"},"encoding":{"x":{"datum":125},"x2":{"datum":880},"y":{"field":"g","type":"quantitative","title":null}}},
  {"data":{"values":[{}]},"mark":{"type":"rule","color":"#cccccc"},"encoding":{"x":{"datum":125},"y":{"datum":-1000},"y2":{"datum":3000}}},
  {"data":{"values":[{}]},"mark":{"type":"rule","color":"#b8b8b8"},"encoding":{"x":{"datum":125},"x2":{"datum":880},"y":{"datum":0}}},
  {"data":{"values":[{}]},"mark":{"type":"text","style":"wm","text":"みん","align":"right","color":"#f2b0b9"},"encoding":{"x":{"datum":478},"y":{"datum":1254}}},
  {"data":{"values":[{}]},"mark":{"type":"text","style":"wm","text":"レポ","align":"left","color":"#bcbcbc"},"encoding":{"x":{"datum":478},"y":{"datum":1254}}},
  {"transform":[{"filter":"datum.p=='601'"}],"mark":"line","encoding":{
   "x":{"field":"t","type":"quantitative","title":null,"scale":{"domain":[125,880],"nice":false,"zero":false},"axis":{"orient":"top","minExtent":36,"maxExtent":36}},
   "y":{"field":"v","type":"quantitative","title":null,"scale":{"domain":[-1000,3000],"nice":false,"zero":false},"axis":{"values":[-1000,0,1000,2000,3000],"tickCount":20,"minExtent":42,"maxExtent":42}}}}
 ]},
{"width":250,"height":117,"title":{"text":"604","offset":-28.5},
 "layer":[
  {"data":{"values":[{"g":-2000},{"g":2000},{"g":4000},{"g":6000},{"g":8000},{"g":10000}]},"mark":{"type":"rule","color":"#d9d9d9"},"encoding":{"x":{"datum":130},"x2":{"datum":880},"y":{"field":"g","type":"quantitative","title":null}}},
  {"data":{"values":[{}]},"mark":{"type":"rule","color":"#cccccc"},"encoding":{"x":{"datum":130},"y":{"datum":-2000},"y2":{"datum":10000}}},
  {"data":{"values":[{}]},"mark":{"type":"rule","color":"#b8b8b8"},"encoding":{"x":{"datum":130},"x2":{"datum":880},"y":{"datum":0}}},
  {"data":{"values":[{}]},"mark":{"type":"text","style":"wm","text":"みん","align":"right","color":"#f2b0b9"},"encoding":{"x":{"datum":480},"y":{"datum":4940}}},
  {"data":{"values":[{}]},"mark":{"type":"text","style":"wm","text":"レポ","align":"left","color":"#bcbcbc"},"encoding":{"x":{"datum":480},"y":{"datum":4940}}},
  {"transform":[{"filter":"datum.p=='604'"}],"mark":"line","encoding":{
   "x":{"field":"t","type":"quantitative","title":null,"scale":{"domain":[130,880],"nice":false,"zero":false},"axis":{"orient":"top","minExtent":36,"maxExtent":36}},
   "y":{"field":"v","type":"quantitative","title":null,"scale":{"domain":[-2000,10000],"nice":false,"zero":false},"axis":{"values":[-2000,0,2000,4000,6000,8000,10000],"tickCount":20,"minExtent":50,"maxExtent":50}}}}
 ]},
{"width":252,"height":117,"title":{"text":"605","offset":-28.5},
 "layer":[
  {"data":{"values":[{"g":-1000},{"g":1000},{"g":2000},{"g":3000},{"g":4000}]},"mark":{"type":"rule","color":"#d9d9d9"},"encoding":{"x":{"datum":130},"x2":{"datum":885},"y":{"field":"g","type":"quantitative","title":null}}},
  {"data":{"values":[{}]},"mark":{"type":"rule","color":"#cccccc"},"encoding":{"x":{"datum":130},"y":{"datum":-1000},"y2":{"datum":4000}}},
  {"data":{"values":[{}]},"mark":{"type":"rule","color":"#b8b8b8"},"encoding":{"x":{"datum":130},"x2":{"datum":885},"y":{"datum":0}}},
  {"data":{"values":[{}]},"mark":{"type":"text","style":"wm","text":"みん","align":"right","color":"#f2b0b9"},"encoding":{"x":{"datum":490},"y":{"datum":1929}}},
  {"data":{"values":[{}]},"mark":{"type":"text","style":"wm","text":"レポ","align":"left","color":"#bcbcbc"},"encoding":{"x":{"datum":490},"y":{"datum":1929}}},
  {"transform":[{"filter":"datum.p=='605'"}],"mark":"line","encoding":{
   "x":{"field":"t","type":"quantitative","title":null,"scale":{"domain":[130,885],"nice":false,"zero":false},"axis":{"orient":"top","minExtent":36,"maxExtent":36}},
   "y":{"field":"v","type":"quantitative","title":null,"scale":{"domain":[-1000,4000],"nice":false,"zero":false},"axis":{"values":[-1000,0,1000,2000,3000,4000],"tickCount":20,"minExtent":50,"maxExtent":50}}}}
 ]}
]},
{"spacing":0,"hconcat":[
{"width":251,"height":118,"title":{"text":"608","offset":-24.5},
 "layer":[
  {"data":{"values":[{"g":-2000},{"g":-1000},{"g":1000},{"g":2000},{"g":3000}]},"mark":{"type":"rule","color":"#d9d9d9"},"encoding":{"x":{"datum":42},"x2":{"datum":293},"y":{"field":"g","type":"quantitative","title":null}}},
  {"data":{"values":[{}]},"mark":{"type":"rule","color":"#cccccc"},"encoding":{"x":{"datum":42},"y":{"datum":-2000},"y2":{"datum":3000}}},
  {"data":{"values":[{}]},"mark":{"type":"rule","color":"#b8b8b8"},"encoding":{"x":{"datum":42},"x2":{"datum":293},"y":{"datum":0}}},
  {"data":{"values":[{}]},"mark":{"type":"text","style":"wm","text":"みん","align":"right","color":"#f2b0b9"},"encoding":{"x":{"datum":157},"y":{"datum":850}}},
  {"data":{"values":[{}]},"mark":{"type":"text","style":"wm","text":"レポ","align":"left","color":"#bcbcbc"},"encoding":{"x":{"datum":157},"y":{"datum":850}}},
  {"transform":[{"filter":"datum.p=='608'"}],"mark":"line","encoding":{
   "x":{"field":"t","type":"quantitative","title":null,"scale":{"domain":[42,293],"nice":false,"zero":false},"axis":{"orient":"top","minExtent":32,"maxExtent":32}},
   "y":{"field":"v","type":"quantitative","title":null,"scale":{"domain":[-2000,3000],"nice":false,"zero":false},"axis":{"values":[-2000,-1000,0,1000,2000,3000],"tickCount":20,"minExtent":42,"maxExtent":42}}}}
 ]},
{"width":253,"height":118,"title":{"text":"624","offset":-24.5},
 "layer":[
  {"data":{"values":[{"g":-500},{"g":500},{"g":1000},{"g":1500}]},"mark":{"type":"rule","color":"#d9d9d9"},"encoding":{"x":{"datum":340},"x2":{"datum":593},"y":{"field":"g","type":"quantitative","title":null}}},
  {"data":{"values":[{}]},"mark":{"type":"rule","color":"#cccccc"},"encoding":{"x":{"datum":340},"y":{"datum":-500},"y2":{"datum":1500}}},
  {"data":{"values":[{}]},"mark":{"type":"rule","color":"#b8b8b8"},"encoding":{"x":{"datum":340},"x2":{"datum":593},"y":{"datum":0}}},
  {"data":{"values":[{}]},"mark":{"type":"text","style":"wm","text":"みん","align":"right","color":"#f2b0b9"},"encoding":{"x":{"datum":457},"y":{"datum":640}}},
  {"data":{"values":[{}]},"mark":{"type":"text","style":"wm","text":"レポ","align":"left","color":"#bcbcbc"},"encoding":{"x":{"datum":457},"y":{"datum":640}}},
  {"transform":[{"filter":"datum.p=='624'"}],"mark":"line","encoding":{
   "x":{"field":"t","type":"quantitative","title":null,"scale":{"domain":[340,593],"nice":false,"zero":false},"axis":{"orient":"top","minExtent":32,"maxExtent":32}},
   "y":{"field":"v","type":"quantitative","title":null,"scale":{"domain":[-500,1500],"nice":false,"zero":false},"axis":{"values":[-500,0,500,1000,1500],"tickCount":20,"minExtent":47,"maxExtent":47}}}}
 ]},
{"width":253,"height":118,"title":{"text":"641","offset":-24.5},
 "layer":[
  {"data":{"values":[{"g":-1000},{"g":1000},{"g":2000}]},"mark":{"type":"rule","color":"#d9d9d9"},"encoding":{"x":{"datum":640},"x2":{"datum":893},"y":{"field":"g","type":"quantitative","title":null}}},
  {"data":{"values":[{}]},"mark":{"type":"rule","color":"#cccccc"},"encoding":{"x":{"datum":640},"y":{"datum":-1000},"y2":{"datum":2000}}},
  {"data":{"values":[{}]},"mark":{"type":"rule","color":"#b8b8b8"},"encoding":{"x":{"datum":640},"x2":{"datum":893},"y":{"datum":0}}},
  {"data":{"values":[{}]},"mark":{"type":"text","style":"wm","text":"みん","align":"right","color":"#f2b0b9"},"encoding":{"x":{"datum":757},"y":{"datum":710}}},
  {"data":{"values":[{}]},"mark":{"type":"text","style":"wm","text":"レポ","align":"left","color":"#bcbcbc"},"encoding":{"x":{"datum":757},"y":{"datum":710}}},
  {"transform":[{"filter":"datum.p=='641'"}],"mark":"line","encoding":{
   "x":{"field":"t","type":"quantitative","title":null,"scale":{"domain":[640,893],"nice":false,"zero":false},"axis":{"orient":"top","minExtent":32,"maxExtent":32}},
   "y":{"field":"v","type":"quantitative","title":null,"scale":{"domain":[-1000,2160],"nice":false,"zero":false},"axis":{"values":[-1000,0,1000,2000],"tickCount":20,"minExtent":47,"maxExtent":47}}}}
 ]}
]}
],
"config":{
 "view":{"stroke":null},
 "title":{"font":"Liberation Sans","fontSize":13,"fontWeight":"normal","color":"#3b7bc0","anchor":"middle","frame":"group","dx":-15,"offset":-24,"baseline":"bottom"},
 "axisX":{"labels":false,"ticks":false,"domain":false,"grid":false},
 "axisY":{"ticks":false,"grid":false,"domain":false,"labelFont":"Liberation Sans","labelFontSize":11,"labelColor":"#5e5e5e","labelPadding":9,"labelOverlap":false,"labelExpr":"'' + datum.value"},
 "line":{"color":"#ef5070","strokeWidth":2.5,"strokeJoin":"round","strokeCap":"round"},
 "rule":{"strokeWidth":1},
 "style":{"wm":{"font":"Noto Sans CJK JP","fontSize":31,"fontWeight":"bold","fontStyle":"italic","baseline":"middle","opacity":0.85}}
}
}
